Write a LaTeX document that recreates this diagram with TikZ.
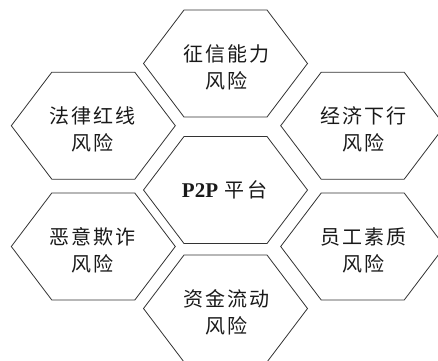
\documentclass[tikz,border=0pt]{standalone}
\usepackage{fontspec}
\setmainfont{Liberation Serif}
\newfontfamily\cjk[LetterSpace=11]{Noto Sans CJK SC}
\begin{document}
\begin{tikzpicture}[x=1pt,y=-1pt,
  hexline/.style={draw=black!80, line width=0.8pt},
  lbl/.style={align=center, font=\cjk\fontsize{20}{27}\selectfont, inner sep=0pt, text=black!90},
  hexa/.pic={\draw[hexline] (-82,0) -- (-41.5,-53.5) -- (41.5,-53.5) -- (82,0) -- (41.5,53.5) -- (-41.5,53.5) -- cycle;}]
\useasboundingbox (0,0) rectangle (438,360);
\clip (0,0) rectangle (438,360);
% hexagons
\pic at (225.5,63.5) {hexa};
\pic at (93.3,125.7) {hexa};
\pic at (362.7,125.7) {hexa};
\pic at (225.5,190) {hexa};
\pic at (93.3,246.5) {hexa};
\pic at (362.7,246.5) {hexa};
\pic at (225.5,308.5) {hexa};
% labels
\node[lbl] (t)  at (226.5,67)  {征信能力\\风险};
\node[lbl] (lt) at (92.5,129)  {法律红线\\风险};
\node[lbl] (rt) at (363.5,129) {经济下行\\风险};
\node[lbl] (c)  at (224.5,190) {{\rmfamily\bfseries\fontsize{21}{27}\selectfont P2P} 平台};
\node[lbl] (lb) at (92.5,250)  {恶意欺诈\\风险};
\node[lbl] (rb) at (363.5,250) {员工素质\\风险};
\node[lbl] (b)  at (226.5,312) {资金流动\\风险};
\end{tikzpicture}
\end{document}
